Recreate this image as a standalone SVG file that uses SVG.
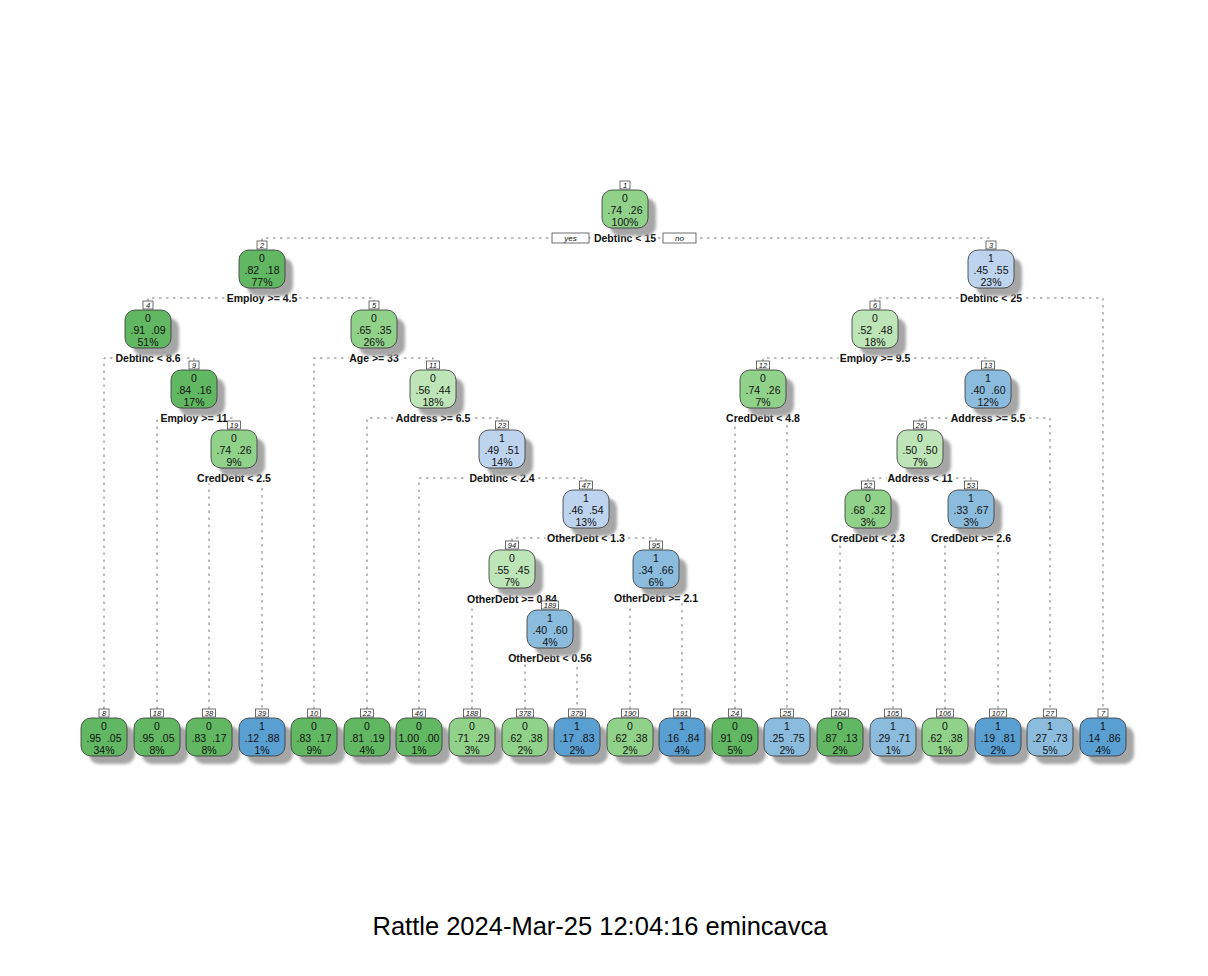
<svg xmlns="http://www.w3.org/2000/svg" width="1208" height="976" viewBox="0 0 1208 976">
<defs>
<filter id="sh" x="-30%" y="-30%" width="160%" height="160%"><feGaussianBlur stdDeviation="1.6"/></filter>
<style>
.bx{stroke:#333;stroke-width:0.8}
.shd{fill:#a6a6a6;filter:url(#sh)}
.dg{fill:#62B862}.mg{fill:#91D28B}.lg{fill:#BEE5B7}
.lb{fill:#BDD3EE}.mb{fill:#8CBCDD}.db{fill:#5A9FD2}
.t{font-family:"Liberation Sans",Arial,sans-serif;font-size:10.5px;text-anchor:middle;fill:#111}
.sp{font-family:"Liberation Sans",Arial,sans-serif;font-size:10.5px;font-weight:bold;text-anchor:middle;fill:#111;stroke:#fff;stroke-width:4;paint-order:stroke;stroke-linejoin:round}
.nb{fill:#fff;stroke:#333;stroke-width:0.7}
.nt{font-family:"Liberation Sans",Arial,sans-serif;font-size:7.5px;font-style:italic;text-anchor:middle;fill:#111}
.yn{font-family:"Liberation Sans",Arial,sans-serif;font-size:8px;font-style:italic;text-anchor:middle;fill:#111}
.cn{fill:none;stroke:#555;stroke-width:0.8;stroke-dasharray:2.5,4.5}
.title{font-family:"Liberation Sans",Arial,sans-serif;font-size:25.5px;text-anchor:middle;fill:#000}
</style>
</defs>
<rect width="1208" height="976" fill="#fff"/>
<g id="connectors">
<path class="cn" d="M262,241V238H991V241"/>
<path class="cn" d="M148,301V298H374V301"/>
<path class="cn" d="M875,301V298H1103V709"/>
<path class="cn" d="M104,709V358H194V361"/>
<path class="cn" d="M314,709V358H433V361"/>
<path class="cn" d="M763,361V358H988V361"/>
<path class="cn" d="M157,709V418H234V421"/>
<path class="cn" d="M367,709V418H502V421"/>
<path class="cn" d="M735,709V418H787V709"/>
<path class="cn" d="M920,421V418H1050V709"/>
<path class="cn" d="M209,709V478H262V709"/>
<path class="cn" d="M419,709V478H586V481"/>
<path class="cn" d="M868,481V478H971V481"/>
<path class="cn" d="M512,541V538H656V541"/>
<path class="cn" d="M840,709V538H893V709"/>
<path class="cn" d="M945,709V538H998V709"/>
<path class="cn" d="M472,709V598H550V601"/>
<path class="cn" d="M630,709V598H682V709"/>
<path class="cn" d="M525,709V658H577V709"/>
</g>
<g id="labels">
<rect class="nb" x="552" y="233" width="37" height="10"/><text class="yn" x="570.5" y="241">yes</text>
<rect class="nb" x="663" y="233" width="33" height="10"/><text class="yn" x="679.5" y="241">no</text>
<text class="sp" x="625" y="242">DebtInc &lt; 15</text>
<text class="sp" x="262" y="302">Employ &gt;= 4.5</text>
<text class="sp" x="991" y="302">DebtInc &lt; 25</text>
<text class="sp" x="148" y="362">DebtInc &lt; 8.6</text>
<text class="sp" x="374" y="362">Age &gt;= 33</text>
<text class="sp" x="875" y="362">Employ &gt;= 9.5</text>
<text class="sp" x="194" y="422">Employ &gt;= 11</text>
<text class="sp" x="433" y="422">Address &gt;= 6.5</text>
<text class="sp" x="763" y="422">CredDebt &lt; 4.8</text>
<text class="sp" x="988" y="422">Address &gt;= 5.5</text>
<text class="sp" x="234" y="482">CredDebt &lt; 2.5</text>
<text class="sp" x="502" y="482">DebtInc &lt; 2.4</text>
<text class="sp" x="920" y="482">Address &lt; 11</text>
<text class="sp" x="586" y="542">OtherDebt &lt; 1.3</text>
<text class="sp" x="868" y="542">CredDebt &lt; 2.3</text>
<text class="sp" x="971" y="542">CredDebt &gt;= 2.6</text>
<text class="sp" x="512" y="603">OtherDebt &gt;= 0.84</text>
<text class="sp" x="656" y="602">OtherDebt &gt;= 2.1</text>
<text class="sp" x="550" y="662">OtherDebt &lt; 0.56</text>
</g>
<!-- internal nodes -->
<g id="n1"><rect class="shd" x="610" y="198" width="46" height="38" rx="10"/><rect class="bx mg" x="602" y="190" width="46" height="38" rx="10"/><rect class="nb" x="620" y="181" width="10" height="8"/><text class="nt" x="625" y="188">1</text><text class="t" x="625" y="202">0</text><text class="t" x="625" y="214">.74&#160;&#160;.26</text><text class="t" x="625" y="226">100%</text></g>
<g id="n2"><rect class="shd" x="247" y="258" width="46" height="38" rx="10"/><rect class="bx dg" x="239" y="250" width="46" height="38" rx="10"/><rect class="nb" x="257" y="241" width="10" height="8"/><text class="nt" x="262" y="248">2</text><text class="t" x="262" y="262">0</text><text class="t" x="262" y="274">.82&#160;&#160;.18</text><text class="t" x="262" y="286">77%</text></g>
<g id="n3"><rect class="shd" x="976" y="258" width="46" height="38" rx="10"/><rect class="bx lb" x="968" y="250" width="46" height="38" rx="10"/><rect class="nb" x="986" y="241" width="10" height="8"/><text class="nt" x="991" y="248">3</text><text class="t" x="991" y="262">1</text><text class="t" x="991" y="274">.45&#160;&#160;.55</text><text class="t" x="991" y="286">23%</text></g>
<g id="n4"><rect class="shd" x="133" y="318" width="46" height="38" rx="10"/><rect class="bx dg" x="125" y="310" width="46" height="38" rx="10"/><rect class="nb" x="143" y="301" width="10" height="8"/><text class="nt" x="148" y="308">4</text><text class="t" x="148" y="322">0</text><text class="t" x="148" y="334">.91&#160;&#160;.09</text><text class="t" x="148" y="346">51%</text></g>
<g id="n5"><rect class="shd" x="359" y="318" width="46" height="38" rx="10"/><rect class="bx mg" x="351" y="310" width="46" height="38" rx="10"/><rect class="nb" x="369" y="301" width="10" height="8"/><text class="nt" x="374" y="308">5</text><text class="t" x="374" y="322">0</text><text class="t" x="374" y="334">.65&#160;&#160;.35</text><text class="t" x="374" y="346">26%</text></g>
<g id="n6"><rect class="shd" x="860" y="318" width="46" height="38" rx="10"/><rect class="bx lg" x="852" y="310" width="46" height="38" rx="10"/><rect class="nb" x="870" y="301" width="10" height="8"/><text class="nt" x="875" y="308">6</text><text class="t" x="875" y="322">0</text><text class="t" x="875" y="334">.52&#160;&#160;.48</text><text class="t" x="875" y="346">18%</text></g>
<g id="n9"><rect class="shd" x="179" y="378" width="46" height="38" rx="10"/><rect class="bx dg" x="171" y="370" width="46" height="38" rx="10"/><rect class="nb" x="189" y="361" width="10" height="8"/><text class="nt" x="194" y="368">9</text><text class="t" x="194" y="382">0</text><text class="t" x="194" y="394">.84&#160;&#160;.16</text><text class="t" x="194" y="406">17%</text></g>
<g id="n11"><rect class="shd" x="418" y="378" width="46" height="38" rx="10"/><rect class="bx lg" x="410" y="370" width="46" height="38" rx="10"/><rect class="nb" x="426.5" y="361" width="13" height="8"/><text class="nt" x="433" y="368">11</text><text class="t" x="433" y="382">0</text><text class="t" x="433" y="394">.56&#160;&#160;.44</text><text class="t" x="433" y="406">18%</text></g>
<g id="n12"><rect class="shd" x="748" y="378" width="46" height="38" rx="10"/><rect class="bx mg" x="740" y="370" width="46" height="38" rx="10"/><rect class="nb" x="756.5" y="361" width="13" height="8"/><text class="nt" x="763" y="368">12</text><text class="t" x="763" y="382">0</text><text class="t" x="763" y="394">.74&#160;&#160;.26</text><text class="t" x="763" y="406">7%</text></g>
<g id="n13"><rect class="shd" x="973" y="378" width="46" height="38" rx="10"/><rect class="bx mb" x="965" y="370" width="46" height="38" rx="10"/><rect class="nb" x="981.5" y="361" width="13" height="8"/><text class="nt" x="988" y="368">13</text><text class="t" x="988" y="382">1</text><text class="t" x="988" y="394">.40&#160;&#160;.60</text><text class="t" x="988" y="406">12%</text></g>
<g id="n19"><rect class="shd" x="219" y="438" width="46" height="38" rx="10"/><rect class="bx mg" x="211" y="430" width="46" height="38" rx="10"/><rect class="nb" x="227.5" y="421" width="13" height="8"/><text class="nt" x="234" y="428">19</text><text class="t" x="234" y="442">0</text><text class="t" x="234" y="454">.74&#160;&#160;.26</text><text class="t" x="234" y="466">9%</text></g>
<g id="n23"><rect class="shd" x="487" y="438" width="46" height="38" rx="10"/><rect class="bx lb" x="479" y="430" width="46" height="38" rx="10"/><rect class="nb" x="495.5" y="421" width="13" height="8"/><text class="nt" x="502" y="428">23</text><text class="t" x="502" y="442">1</text><text class="t" x="502" y="454">.49&#160;&#160;.51</text><text class="t" x="502" y="466">14%</text></g>
<g id="n26"><rect class="shd" x="905" y="438" width="46" height="38" rx="10"/><rect class="bx lg" x="897" y="430" width="46" height="38" rx="10"/><rect class="nb" x="913.5" y="421" width="13" height="8"/><text class="nt" x="920" y="428">26</text><text class="t" x="920" y="442">0</text><text class="t" x="920" y="454">.50&#160;&#160;.50</text><text class="t" x="920" y="466">7%</text></g>
<g id="n47"><rect class="shd" x="571" y="498" width="46" height="38" rx="10"/><rect class="bx lb" x="563" y="490" width="46" height="38" rx="10"/><rect class="nb" x="579.5" y="481" width="13" height="8"/><text class="nt" x="586" y="488">47</text><text class="t" x="586" y="502">1</text><text class="t" x="586" y="514">.46&#160;&#160;.54</text><text class="t" x="586" y="526">13%</text></g>
<g id="n52"><rect class="shd" x="853" y="498" width="46" height="38" rx="10"/><rect class="bx mg" x="845" y="490" width="46" height="38" rx="10"/><rect class="nb" x="861.5" y="481" width="13" height="8"/><text class="nt" x="868" y="488">52</text><text class="t" x="868" y="502">0</text><text class="t" x="868" y="514">.68&#160;&#160;.32</text><text class="t" x="868" y="526">3%</text></g>
<g id="n53"><rect class="shd" x="956" y="498" width="46" height="38" rx="10"/><rect class="bx mb" x="948" y="490" width="46" height="38" rx="10"/><rect class="nb" x="964.5" y="481" width="13" height="8"/><text class="nt" x="971" y="488">53</text><text class="t" x="971" y="502">1</text><text class="t" x="971" y="514">.33&#160;&#160;.67</text><text class="t" x="971" y="526">3%</text></g>
<g id="n94"><rect class="shd" x="497" y="558" width="46" height="38" rx="10"/><rect class="bx lg" x="489" y="550" width="46" height="38" rx="10"/><rect class="nb" x="505.5" y="541" width="13" height="8"/><text class="nt" x="512" y="548">94</text><text class="t" x="512" y="562">0</text><text class="t" x="512" y="574">.55&#160;&#160;.45</text><text class="t" x="512" y="586">7%</text></g>
<g id="n95"><rect class="shd" x="641" y="558" width="46" height="38" rx="10"/><rect class="bx mb" x="633" y="550" width="46" height="38" rx="10"/><rect class="nb" x="649.5" y="541" width="13" height="8"/><text class="nt" x="656" y="548">95</text><text class="t" x="656" y="562">1</text><text class="t" x="656" y="574">.34&#160;&#160;.66</text><text class="t" x="656" y="586">6%</text></g>
<g id="n189"><rect class="shd" x="535" y="618" width="46" height="38" rx="10"/><rect class="bx mb" x="527" y="610" width="46" height="38" rx="10"/><rect class="nb" x="541.5" y="601" width="17" height="8"/><text class="nt" x="550" y="608">189</text><text class="t" x="550" y="622">1</text><text class="t" x="550" y="634">.40&#160;&#160;.60</text><text class="t" x="550" y="646">4%</text></g>
<!-- leaves -->
<g id="n8"><rect class="shd" x="89" y="726" width="46" height="38" rx="10"/><rect class="bx dg" x="81" y="718" width="46" height="38" rx="10"/><rect class="nb" x="99" y="709" width="10" height="8"/><text class="nt" x="104" y="716">8</text><text class="t" x="104" y="730">0</text><text class="t" x="104" y="742">.95&#160;&#160;.05</text><text class="t" x="104" y="754">34%</text></g>
<g id="n18"><rect class="shd" x="142" y="726" width="46" height="38" rx="10"/><rect class="bx dg" x="134" y="718" width="46" height="38" rx="10"/><rect class="nb" x="150.5" y="709" width="13" height="8"/><text class="nt" x="157" y="716">18</text><text class="t" x="157" y="730">0</text><text class="t" x="157" y="742">.95&#160;&#160;.05</text><text class="t" x="157" y="754">8%</text></g>
<g id="n38"><rect class="shd" x="194" y="726" width="46" height="38" rx="10"/><rect class="bx dg" x="186" y="718" width="46" height="38" rx="10"/><rect class="nb" x="202.5" y="709" width="13" height="8"/><text class="nt" x="209" y="716">38</text><text class="t" x="209" y="730">0</text><text class="t" x="209" y="742">.83&#160;&#160;.17</text><text class="t" x="209" y="754">8%</text></g>
<g id="n39"><rect class="shd" x="247" y="726" width="46" height="38" rx="10"/><rect class="bx db" x="239" y="718" width="46" height="38" rx="10"/><rect class="nb" x="255.5" y="709" width="13" height="8"/><text class="nt" x="262" y="716">39</text><text class="t" x="262" y="730">1</text><text class="t" x="262" y="742">.12&#160;&#160;.88</text><text class="t" x="262" y="754">1%</text></g>
<g id="n10"><rect class="shd" x="299" y="726" width="46" height="38" rx="10"/><rect class="bx dg" x="291" y="718" width="46" height="38" rx="10"/><rect class="nb" x="307.5" y="709" width="13" height="8"/><text class="nt" x="314" y="716">10</text><text class="t" x="314" y="730">0</text><text class="t" x="314" y="742">.83&#160;&#160;.17</text><text class="t" x="314" y="754">9%</text></g>
<g id="n22"><rect class="shd" x="352" y="726" width="46" height="38" rx="10"/><rect class="bx dg" x="344" y="718" width="46" height="38" rx="10"/><rect class="nb" x="360.5" y="709" width="13" height="8"/><text class="nt" x="367" y="716">22</text><text class="t" x="367" y="730">0</text><text class="t" x="367" y="742">.81&#160;&#160;.19</text><text class="t" x="367" y="754">4%</text></g>
<g id="n46"><rect class="shd" x="404" y="726" width="46" height="38" rx="10"/><rect class="bx dg" x="396" y="718" width="46" height="38" rx="10"/><rect class="nb" x="412.5" y="709" width="13" height="8"/><text class="nt" x="419" y="716">46</text><text class="t" x="419" y="730">0</text><text class="t" x="419" y="742">1.00&#160;&#160;.00</text><text class="t" x="419" y="754">1%</text></g>
<g id="n188"><rect class="shd" x="457" y="726" width="46" height="38" rx="10"/><rect class="bx mg" x="449" y="718" width="46" height="38" rx="10"/><rect class="nb" x="463.5" y="709" width="17" height="8"/><text class="nt" x="472" y="716">188</text><text class="t" x="472" y="730">0</text><text class="t" x="472" y="742">.71&#160;&#160;.29</text><text class="t" x="472" y="754">3%</text></g>
<g id="n378"><rect class="shd" x="510" y="726" width="46" height="38" rx="10"/><rect class="bx mg" x="502" y="718" width="46" height="38" rx="10"/><rect class="nb" x="516.5" y="709" width="17" height="8"/><text class="nt" x="525" y="716">378</text><text class="t" x="525" y="730">0</text><text class="t" x="525" y="742">.62&#160;&#160;.38</text><text class="t" x="525" y="754">2%</text></g>
<g id="n379"><rect class="shd" x="562" y="726" width="46" height="38" rx="10"/><rect class="bx db" x="554" y="718" width="46" height="38" rx="10"/><rect class="nb" x="568.5" y="709" width="17" height="8"/><text class="nt" x="577" y="716">379</text><text class="t" x="577" y="730">1</text><text class="t" x="577" y="742">.17&#160;&#160;.83</text><text class="t" x="577" y="754">2%</text></g>
<g id="n190"><rect class="shd" x="615" y="726" width="46" height="38" rx="10"/><rect class="bx mg" x="607" y="718" width="46" height="38" rx="10"/><rect class="nb" x="621.5" y="709" width="17" height="8"/><text class="nt" x="630" y="716">190</text><text class="t" x="630" y="730">0</text><text class="t" x="630" y="742">.62&#160;&#160;.38</text><text class="t" x="630" y="754">2%</text></g>
<g id="n191"><rect class="shd" x="667" y="726" width="46" height="38" rx="10"/><rect class="bx db" x="659" y="718" width="46" height="38" rx="10"/><rect class="nb" x="673.5" y="709" width="17" height="8"/><text class="nt" x="682" y="716">191</text><text class="t" x="682" y="730">1</text><text class="t" x="682" y="742">.16&#160;&#160;.84</text><text class="t" x="682" y="754">4%</text></g>
<g id="n24"><rect class="shd" x="720" y="726" width="46" height="38" rx="10"/><rect class="bx dg" x="712" y="718" width="46" height="38" rx="10"/><rect class="nb" x="728.5" y="709" width="13" height="8"/><text class="nt" x="735" y="716">24</text><text class="t" x="735" y="730">0</text><text class="t" x="735" y="742">.91&#160;&#160;.09</text><text class="t" x="735" y="754">5%</text></g>
<g id="n25"><rect class="shd" x="772" y="726" width="46" height="38" rx="10"/><rect class="bx mb" x="764" y="718" width="46" height="38" rx="10"/><rect class="nb" x="780.5" y="709" width="13" height="8"/><text class="nt" x="787" y="716">25</text><text class="t" x="787" y="730">1</text><text class="t" x="787" y="742">.25&#160;&#160;.75</text><text class="t" x="787" y="754">2%</text></g>
<g id="n104"><rect class="shd" x="825" y="726" width="46" height="38" rx="10"/><rect class="bx dg" x="817" y="718" width="46" height="38" rx="10"/><rect class="nb" x="831.5" y="709" width="17" height="8"/><text class="nt" x="840" y="716">104</text><text class="t" x="840" y="730">0</text><text class="t" x="840" y="742">.87&#160;&#160;.13</text><text class="t" x="840" y="754">2%</text></g>
<g id="n105"><rect class="shd" x="878" y="726" width="46" height="38" rx="10"/><rect class="bx mb" x="870" y="718" width="46" height="38" rx="10"/><rect class="nb" x="884.5" y="709" width="17" height="8"/><text class="nt" x="893" y="716">105</text><text class="t" x="893" y="730">1</text><text class="t" x="893" y="742">.29&#160;&#160;.71</text><text class="t" x="893" y="754">1%</text></g>
<g id="n106"><rect class="shd" x="930" y="726" width="46" height="38" rx="10"/><rect class="bx mg" x="922" y="718" width="46" height="38" rx="10"/><rect class="nb" x="936.5" y="709" width="17" height="8"/><text class="nt" x="945" y="716">106</text><text class="t" x="945" y="730">0</text><text class="t" x="945" y="742">.62&#160;&#160;.38</text><text class="t" x="945" y="754">1%</text></g>
<g id="n107"><rect class="shd" x="983" y="726" width="46" height="38" rx="10"/><rect class="bx db" x="975" y="718" width="46" height="38" rx="10"/><rect class="nb" x="989.5" y="709" width="17" height="8"/><text class="nt" x="998" y="716">107</text><text class="t" x="998" y="730">1</text><text class="t" x="998" y="742">.19&#160;&#160;.81</text><text class="t" x="998" y="754">2%</text></g>
<g id="n27"><rect class="shd" x="1035" y="726" width="46" height="38" rx="10"/><rect class="bx mb" x="1027" y="718" width="46" height="38" rx="10"/><rect class="nb" x="1043.5" y="709" width="13" height="8"/><text class="nt" x="1050" y="716">27</text><text class="t" x="1050" y="730">1</text><text class="t" x="1050" y="742">.27&#160;&#160;.73</text><text class="t" x="1050" y="754">5%</text></g>
<g id="n7"><rect class="shd" x="1088" y="726" width="46" height="38" rx="10"/><rect class="bx db" x="1080" y="718" width="46" height="38" rx="10"/><rect class="nb" x="1098" y="709" width="10" height="8"/><text class="nt" x="1103" y="716">7</text><text class="t" x="1103" y="730">1</text><text class="t" x="1103" y="742">.14&#160;&#160;.86</text><text class="t" x="1103" y="754">4%</text></g>
<text class="title" x="600" y="935">Rattle 2024-Mar-25 12:04:16 emincavca</text>
</svg>
